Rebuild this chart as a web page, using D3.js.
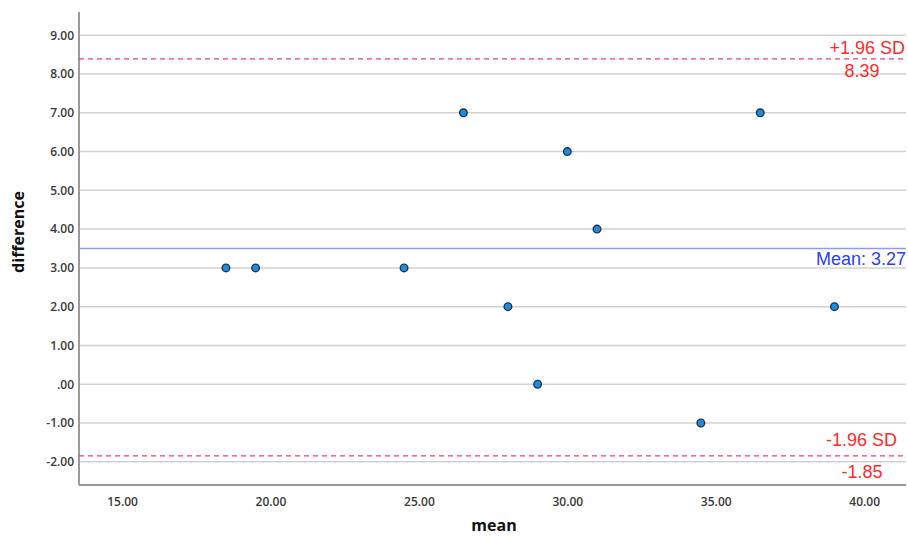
<!DOCTYPE html>
<html><head><meta charset="utf-8">
<script src="https://cdn.jsdelivr.net/npm/d3@7"></script>
<style>body{margin:0;background:#fff;font-family:"Open Sans",Arial,sans-serif}</style>
</head><body><svg id="c" width="908" height="538"></svg>
<script>
const meanX = [18.5, 19.5, 24.5, 26.5, 28, 29, 30, 31, 34.5, 36.5, 39];
const diffY = [3, 3, 3, 7, 2, 0, 6, 4, -1, 7, 2];
const xTicks = [15, 20, 25, 30, 35, 40];
const yTicks = [-2, -1, 0, 1, 2, 3, 4, 5, 6, 7, 8, 9];
const upperLoA = 8.39, lowerLoA = -1.85, meanLine = 3.5;
const meanLabel = "Mean: 3.27", upperLabel = "+1.96 SD", upperVal = "8.39", lowerLabel = "-1.96 SD", lowerVal = "-1.85";

const svg = d3.select("#c");
const L = 79, R = 906, T = 12, B = 485;
const x = d3.scaleLinear().domain([13.55, 41.41]).range([L, R]);
const y = d3.scaleLinear().domain([-2.6, 9.6]).range([B, T]);
const fmt = v => v === 0 ? ".00" : d3.format(".2f")(v).replace("−", "-");

// gridlines
svg.append("g").selectAll("line").data(yTicks).join("line")
  .attr("x1", L).attr("x2", R).attr("y1", d => y(d)).attr("y2", d => y(d))
  .attr("stroke", "#d2d2d2").attr("stroke-width", 1.5);

// axes
const yAxis = d3.axisLeft(y).tickValues(yTicks).tickFormat(fmt).tickSize(0);
const gy = svg.append("g").attr("transform", `translate(${L},0)`).call(yAxis);
const xAxis = d3.axisBottom(x).tickValues(xTicks).tickFormat(fmt).tickSize(0).tickPadding(12);
const gx = svg.append("g").attr("transform", `translate(0,${B})`).call(xAxis);
[gx, gy].forEach(g => {
  g.select(".domain").attr("stroke", "#9a9a9a").attr("stroke-width", 2);
  g.selectAll("text").attr("font-size", 12).attr("fill", "#3a3a3a").attr("font-weight", 600)
   .attr("font-family", "'Open Sans',Arial,sans-serif");
});
gy.selectAll(".tick text").attr("text-anchor", "end").attr("x", -5);
gy.select(".domain").attr("d", `M0,${T}V${B}`);
gx.select(".domain").attr("d", `M${L},0H${R}`);

// reference lines
svg.append("line").attr("x1", L).attr("x2", R).attr("y1", y(meanLine)).attr("y2", y(meanLine))
  .attr("stroke", "#8c9ee6").attr("stroke-width", 1.3);
[upperLoA, lowerLoA].forEach(v => {
  svg.append("line").attr("x1", L).attr("x2", R).attr("y1", y(v)).attr("y2", y(v))
    .attr("stroke", "#ea3f72").attr("stroke-width", 1.2).attr("stroke-dasharray", "5,4");
});

// points
svg.append("g").selectAll("circle").data(meanX.map((m, i) => [m, diffY[i]])).join("circle")
  .attr("cx", d => x(d[0])).attr("cy", d => y(d[1])).attr("r", 3.8)
  .attr("fill", "#1e8de0").attr("stroke", "#1b3550").attr("stroke-width", 1.4);

// annotations
const ann = (t, xx, yy, col, anchor) => svg.append("text").text(t).attr("x", xx).attr("y", yy)
  .attr("fill", col).attr("font-size", 18).attr("text-anchor", anchor)
  .attr("font-family", "'Liberation Sans',Arial,sans-serif");
ann(upperLabel, 905, 54, "#ff2a2a", "end");
ann(upperVal, 862, 77, "#ff2a2a", "middle");
ann(meanLabel, 906, 265, "#2a3cff", "end");
ann(lowerLabel, 897, 446, "#ff2a2a", "end");
ann(lowerVal, 862, 478, "#ff2a2a", "middle");

// axis titles
svg.append("text").text("mean").attr("x", 494).attr("y", 531).attr("text-anchor", "middle")
  .attr("font-size", 16).attr("font-weight", 700).attr("fill", "#111")
  .attr("font-family", "'Open Sans',Arial,sans-serif");
svg.append("text").text("difference").attr("transform", "translate(24,232) rotate(-90)")
  .attr("text-anchor", "middle").attr("font-size", 16).attr("font-weight", 700).attr("fill", "#111")
  .attr("font-family", "'Open Sans',Arial,sans-serif");
</script></body></html>
